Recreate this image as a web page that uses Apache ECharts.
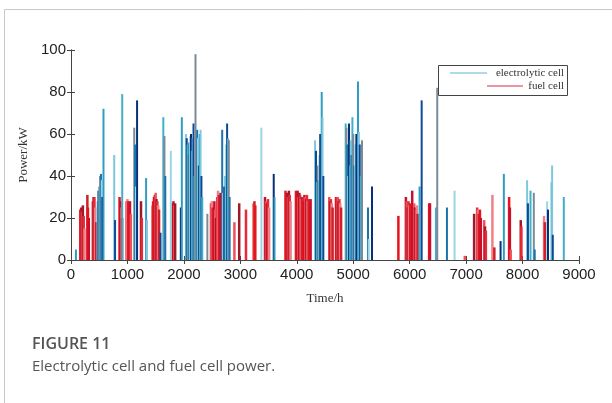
<!DOCTYPE html>
<html><head><meta charset="utf-8">
<script src="https://cdn.jsdelivr.net/npm/echarts@6/dist/echarts.min.js"></script>
<style>html,body{margin:0;padding:0;background:#fff}#c{width:612px;height:403px}</style>
</head><body><div id="c"></div>
<script>
// ---- data ----
const xTicks = [0, 1000, 2000, 3000, 4000, 5000, 6000, 7000, 8000, 9000];
const yTicks = [0, 20, 40, 60, 80, 100];
const seriesNames = ['electrolytic cell', 'fuel cell'];
const xTitle = 'Time/h';
const yTitle = 'Power/kW';
const captionHead = 'FIGURE 11';
const captionText = 'Electrolytic cell and fuel cell power.';

const elecTime = [92, 475, 490, 505, 520, 535, 550, 560, 580, 770, 785, 912, 1125, 1140, 1155, 1175, 1335, 1350,
  1590, 1640, 1660, 1675, 1773, 1950, 1968, 2040, 2055, 2070, 2085, 2100, 2115, 2130, 2145, 2160, 2175, 2190, 2210,
  2240, 2255, 2270, 2285, 2300, 2315, 2330, 2420, 2683, 2700, 2720, 2740, 2755, 2770, 2785, 2800, 2815, 3377, 3596, 3610,
  4328, 4345, 4360, 4375, 4390, 4405, 4420, 4446, 4460, 4475,
  4871, 4885, 4900, 4915, 4930, 4945, 4960, 4975, 4990, 5005, 5020, 5040, 5060, 5089, 5105, 5120, 5140, 5160,
  5266, 5280, 5337, 6180, 6200, 6217, 6470, 6493, 6665, 6800, 7615, 7673, 8085, 8100, 8145, 8204, 8220,
  8440, 8455, 8520, 8528, 8540, 8735];
const elecPower = [5, 28, 33, 35, 40, 41, 38, 30, 72, 50, 19, 79, 63, 55, 35, 76, 39, 19,
  13, 68, 59, 40, 52, 25, 68, 60, 58, 55, 50, 56, 59, 60, 52, 58, 65, 40, 98,
  62, 58, 45, 60, 62, 40, 30, 22, 62, 32, 35, 40, 55, 65, 58, 57, 30, 63, 41, 30,
  57, 52, 37, 45, 38, 50, 60, 80, 68, 40,
  65, 63, 55, 40, 65, 45, 57, 50, 68, 60, 45, 55, 60, 85, 61, 55, 40, 57,
  25, 10, 35, 35, 28, 76, 25, 82, 25, 33, 9, 41, 38, 27, 33, 32, 5,
  28, 24, 37, 45, 12, 30];

const fuelTime = [165, 180, 195, 210, 225, 240, 290, 300, 315, 385, 400, 415, 430, 445, 860, 875, 890, 905,
  985, 1000, 1015, 1030, 1045, 1060, 1240, 1255, 1440, 1455, 1470, 1485, 1500, 1515, 1530, 1545, 1560,
  1800, 1815, 1830, 1845, 2480, 2495, 2510, 2525, 2540, 2555, 2570, 2590, 2605, 2620, 2635, 2650,
  2895, 2980, 3100, 3230, 3250, 3265, 3437, 3455, 3470, 3490, 3510,
  3800, 3815, 3830, 3845, 3860, 3875, 3890, 3985, 4000, 4015, 4030, 4045, 4060, 4075, 4090, 4105,
  4135, 4150, 4165, 4180, 4195, 4210, 4225, 4245, 4575, 4590, 4605, 4620, 4635,
  4695, 4710, 4725, 4740, 4755, 4770, 4785, 5800, 5933, 5950, 5965, 5980, 5995, 6010, 6025, 6045,
  6080, 6095, 6110, 6125, 6140, 6345, 6360, 6977, 7142, 7195, 7210, 7225, 7245, 7260, 7320, 7335, 7350,
  7466, 7500, 7762, 7775, 7790, 7968, 7980, 8381, 8395];
const fuelPower = [24, 25, 23, 26, 21, 15, 31, 25, 20, 28, 30, 30, 25, 18, 30, 28, 25, 20,
  28, 29, 28, 27, 28, 22, 28, 20, 26, 28, 30, 31, 32, 29, 28, 26, 24,
  27, 28, 26, 27, 27, 28, 25, 20, 28, 24, 20, 30, 33, 31, 28, 32,
  18, 27, 24, 27, 28, 26, 30, 28, 27, 29, 25,
  33, 31, 32, 30, 33, 31, 28, 33, 32, 33, 30, 32, 31, 29, 30, 28,
  31, 30, 29, 31, 28, 29, 27, 29, 30, 28, 29, 27, 25,
  30, 29, 30, 28, 29, 27, 25, 21, 30, 28, 25, 28, 26, 27, 24, 33,
  27, 25, 24, 26, 22, 27, 27, 2, 22, 25, 24, 22, 24, 20, 19, 16, 14,
  31, 6, 30, 25, 5, 19, 16, 21, 18];

// ---- styling ----
const elecPalette = ['#2f9cc4', '#7fc8dc', '#0d4a96', '#3fb0c8', '#7b8b96', '#1a74b0', '#9ad6e4', '#06307a'];
const fuelPalette = ['#e8141c', '#c8102e', '#f25058', '#9e1a2a', '#e82a36', '#f07f88', '#d0202a'];

const chart = echarts.init(document.getElementById('c'), null, {renderer: 'canvas'});
const toItems = (ts, vs, pal) => ts.map((t, i) => ({value: [t, vs[i]], itemStyle: {color: pal[i % pal.length]}}));

const axisCol = '#444';
const lblStyle = {color: '#222', fontFamily: '"Liberation Sans", Arial, sans-serif', fontSize: 15};
const plain = v => String(v);
const G = {left: 71, right: 33, top: 50, bottom: 143};

chart.setOption({
  animation: false,
  backgroundColor: '#fff',
  grid: {left: G.left, right: G.right, top: G.top, bottom: G.bottom, containLabel: false},
  xAxis: [{
    type: 'value', min: xTicks[0], max: xTicks[xTicks.length - 1], interval: xTicks[1] - xTicks[0],
    position: 'bottom',
    name: xTitle, nameLocation: 'middle', nameGap: 32,
    nameTextStyle: {fontFamily: '"Liberation Serif", "Times New Roman", serif', fontSize: 13, color: '#333'},
    axisLine: {lineStyle: {color: axisCol, width: 1}},
    axisTick: {inside: true, length: 4, lineStyle: {color: axisCol}},
    axisLabel: Object.assign({margin: 7, formatter: plain}, lblStyle),
    splitLine: {show: false}
  }, {
    type: 'value', min: xTicks[0], max: xTicks[xTicks.length - 1], interval: xTicks[1] - xTicks[0],
    position: 'top',
    axisLine: {lineStyle: {color: axisCol, width: 1}},
    axisTick: {inside: true, length: 4, lineStyle: {color: axisCol}},
    axisLabel: {show: false}, splitLine: {show: false}
  }],
  yAxis: [{
    type: 'value', min: yTicks[0], max: yTicks[yTicks.length - 1], interval: yTicks[1] - yTicks[0],
    position: 'left',
    name: yTitle, nameLocation: 'middle', nameGap: 40, nameRotate: 90,
    nameTextStyle: {fontFamily: '"Liberation Serif", "Times New Roman", serif', fontSize: 13, color: '#333'},
    axisLine: {show: true, lineStyle: {color: axisCol, width: 1}},
    axisTick: {show: true, inside: true, length: 4, lineStyle: {color: axisCol}},
    axisLabel: Object.assign({margin: 5, formatter: plain}, lblStyle),
    splitLine: {show: false}
  }, {
    type: 'value', min: yTicks[0], max: yTicks[yTicks.length - 1], interval: yTicks[1] - yTicks[0],
    position: 'right',
    axisLine: {show: true, lineStyle: {color: axisCol, width: 1}},
    axisTick: {show: true, inside: true, length: 4, lineStyle: {color: axisCol}},
    axisLabel: {show: false}, splitLine: {show: false}
  }],
  series: [{
    name: seriesNames[0], type: 'bar', xAxisIndex: 0, yAxisIndex: 0,
    barWidth: 2, barGap: '-100%', z: 3,
    data: toItems(elecTime, elecPower, elecPalette)
  }, {
    name: seriesNames[1], type: 'bar', xAxisIndex: 0, yAxisIndex: 0,
    barWidth: 2.5, barGap: '-100%', z: 2,
    data: toItems(fuelTime, fuelPower, fuelPalette)
  }],
  graphic: [
    // outer frame
    {type: 'line', shape: {x1: 4.5, y1: 9.5, x2: 612, y2: 9.5}, style: {stroke: '#c8c8c8', lineWidth: 1}, silent: true},
    {type: 'line', shape: {x1: 4.5, y1: 9.5, x2: 4.5, y2: 403}, style: {stroke: '#c8c8c8', lineWidth: 1}, silent: true},
    // legend
    {type: 'rect', z: 100, shape: {x: 438.5, y: 65.5, width: 129, height: 30}, style: {fill: '#fff', stroke: '#444', lineWidth: 1}},
    {type: 'line', z: 101, shape: {x1: 450, y1: 73, x2: 487, y2: 73}, style: {stroke: '#5bb8d0', lineWidth: 1.2}},
    {type: 'text', z: 101, x: 564, y: 73, style: {text: seriesNames[0], align: 'right', verticalAlign: 'middle', font: '11px "Liberation Serif", serif', fill: '#333'}},
    {type: 'line', z: 101, shape: {x1: 487, y1: 86, x2: 523, y2: 86}, style: {stroke: '#d83048', lineWidth: 1.2}},
    {type: 'text', z: 101, x: 564, y: 86, style: {text: seriesNames[1], align: 'right', verticalAlign: 'middle', font: '11px "Liberation Serif", serif', fill: '#333'}},
    // caption
    {type: 'text', x: 32, y: 344, style: {text: captionHead, verticalAlign: 'middle', font: '600 16px "Open Sans", sans-serif', fill: '#555'}},
    {type: 'text', x: 32, y: 367, style: {text: captionText, verticalAlign: 'middle', font: '15px "Open Sans", sans-serif', fill: '#555'}}
  ]
});
</script></body></html>
